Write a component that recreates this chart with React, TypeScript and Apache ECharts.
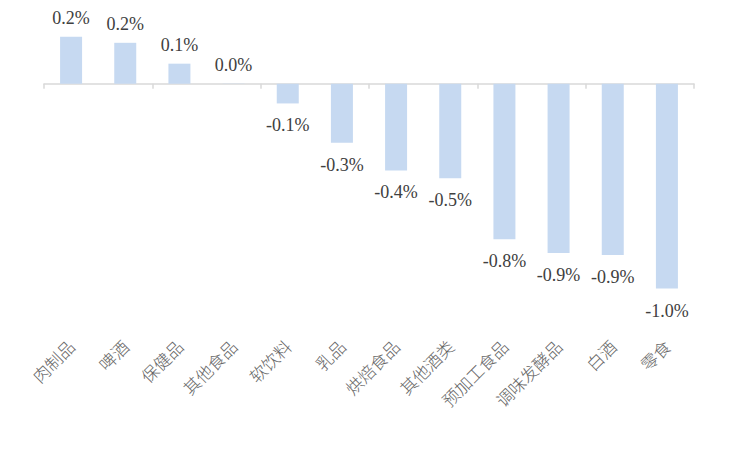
import React, { useEffect, useRef } from "react";
import * as echarts from "echarts";

const categories = ["肉制品", "啤酒", "保健品", "其他食品", "软饮料", "乳品", "烘焙食品", "其他酒类", "预加工食品", "调味发酵品", "白酒", "零食"];
const values = [0.239, 0.208, 0.102, 0.001, -0.1, -0.3, -0.44, -0.48, -0.79, -0.86, -0.87, -1.04];

export default function App() {
  const ref = useRef<HTMLDivElement>(null);
  useEffect(() => {
    const chart = echarts.init(ref.current!, null, { renderer: "svg" });
    chart.setOption({
      animation: false,
      grid: { left: 44, right: 43, top: 5, bottom: 134 },
      xAxis: [
        {
          type: "category",
          data: categories,
          position: "bottom",
          axisLine: { show: false, onZero: false },
          axisTick: { show: false },
          axisLabel: {
            rotate: 45,
            margin: 23,
            fontSize: 17,
            color: "#666666",
            fontFamily: "Noto Sans CJK SC",
            fontWeight: 300,
            interval: 0,
          },
        },
        {
          type: "category",
          data: categories,
          position: "bottom",
          axisLine: { show: true, onZero: true, lineStyle: { color: "#d9d9d9", width: 1.5 } },
          axisTick: { show: true, length: 5, lineStyle: { color: "#d9d9d9", width: 1.5 } },
          axisLabel: { show: false },
        },
      ],
      yAxis: {
        type: "value",
        min: -1.2,
        max: 0.4,
        show: false,
        splitLine: { show: false },
      },
      series: [
        {
          type: "bar",
          xAxisIndex: 0,
          barWidth: 22,
          data: values.map((v) => ({
            value: v,
            label: {
              show: true,
              position: v >= 0 ? "top" : "bottom",
              distance: v >= 0 ? 10 : 13,
            },
          })),
          itemStyle: { color: "#C6D9F1" },
          label: {
            show: true,
            fontSize: 18,
            color: "#404040",
            fontFamily: "Liberation Serif",
            formatter: (p: any) => p.value.toFixed(1) + "%",
          },
        },
      ],
    });
    return () => chart.dispose();
  }, []);
  return <div ref={ref} style={{ position: "fixed", left: 0, top: 0, width: 737, height: 454, background: "#fff" }} />;
}
